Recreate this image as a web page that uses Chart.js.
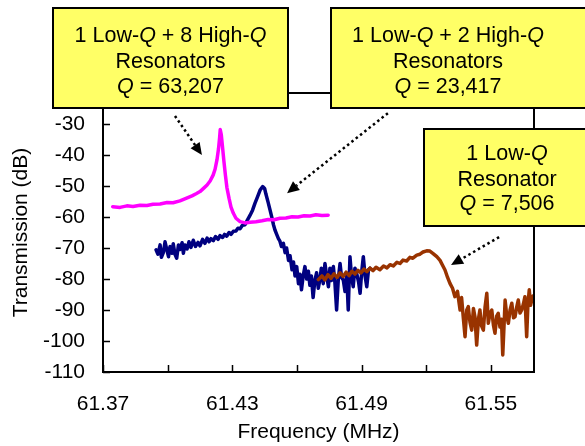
<!DOCTYPE html>
<html><head><meta charset="utf-8">
<script src="https://cdn.jsdelivr.net/npm/chart.js@4/dist/chart.umd.min.js"></script>
<style>html,body{margin:0;padding:0;background:#fff}#wrap{width:585px;height:446px}</style>
</head><body><div id="wrap"><canvas id="c" width="585" height="446"></canvas></div>
<script>
// ---- data ----
const xTickValues = [61.37, 61.40, 61.43, 61.46, 61.49, 61.52, 61.55];
const xTickLabels = ['61.37', '', '61.43', '', '61.49', '', '61.55'];
const yTickValues = [-110, -100, -90, -80, -70, -60, -50, -40, -30, -20];

// 1 Low-Q + 8 High-Q (magenta)
const magentaFreq = [61.3745,61.3779,61.3811,61.3839,61.3872,61.3904,61.3932,61.3965,61.3997,61.4025,61.4057,61.4088,61.4113,61.4132,61.4150,61.4169,61.4183,61.4197,61.4211,61.4220,61.4229,61.4236,61.4241,61.4244,61.4249,61.4254,61.4261,61.4268,61.4275,61.4285,61.4294,61.4305,61.4317,61.4336,61.4359,61.4382,61.4410,61.4438,61.4466,61.4494,61.4521,61.4549,61.4577,61.4605,61.4633,61.4661,61.4688,61.4716,61.4745];
const magentaDb = [-56.7,-56.9,-56.4,-56.6,-56.2,-56.3,-55.9,-55.8,-55.3,-55.4,-54.8,-53.9,-53.2,-52.5,-51.8,-50.6,-49.7,-48.4,-46.5,-44.6,-41.5,-38.0,-34.5,-31.8,-33.5,-37.0,-42.0,-46.5,-50.5,-54.0,-56.8,-58.8,-60.4,-61.5,-61.9,-61.7,-61.5,-61.2,-60.8,-60.9,-60.4,-60.3,-59.9,-60.0,-59.6,-59.7,-59.3,-59.5,-59.4];

// 1 Low-Q + 2 High-Q (navy)
const navyFreq = [61.3946,61.3955,61.3965,61.3971,61.3980,61.3988,61.3996,61.4004,61.4011,61.4020,61.4026,61.4034,61.4042,61.4050,61.4057,61.4067,61.4073,61.4080,61.4090,61.4099,61.4108,61.4119,61.4129,61.4141,61.4150,61.4162,61.4173,61.4183,61.4192,61.4201,61.4212,61.4222,61.4234,61.4243,61.4255,61.4264,61.4274,61.4285,61.4294,61.4305,61.4317,61.4326,61.4336,61.4347,61.4359,61.4370,61.4382,61.4394,61.4405,61.4417,61.4429,61.4441,61.4450,61.4456,61.4466,61.4475,61.4484,61.4491,61.4498,61.4506,61.4514,61.4521,61.4528,61.4537,61.4545,61.4552,61.4561,61.4568,61.4577,61.4584,61.4591,61.4599,61.4607,61.4614,61.4621,61.4629,61.4637,61.4645,61.4653,61.4660,61.4667,61.4675,61.4683,61.4691,61.4699,61.4707,61.4713,61.4722,61.4730,61.4738,61.4746,61.4753,61.4760,61.4769,61.4776,61.4784,61.4792,61.4800,61.4807,61.4815,61.4823,61.4831,61.4838,61.4846,61.4853,61.4861,61.4869,61.4877,61.4886,61.4893,61.4900,61.4908,61.4916,61.4924,61.4932,61.4939];
const navyDb = [-70.6,-72.0,-69.0,-73.0,-71.5,-68.0,-70.5,-72.8,-69.5,-71.7,-68.6,-72.0,-73.3,-69.0,-70.5,-68.3,-71.7,-69.0,-70.3,-68.0,-69.8,-67.5,-69.5,-68.2,-69.3,-67.2,-68.5,-66.8,-68.0,-67.0,-67.6,-66.3,-67.2,-66.0,-66.6,-65.6,-66.2,-65.0,-65.6,-64.6,-64.5,-63.6,-63.8,-62.7,-62.5,-61.0,-59.5,-57.8,-55.6,-53.5,-51.3,-50.2,-50.8,-52.6,-55.2,-57.7,-60.3,-62.5,-64.2,-65.6,-67.0,-67.8,-69.5,-68.5,-71.5,-70.0,-74.0,-72.5,-77.0,-74.5,-79.0,-76.0,-81.5,-78.5,-83.5,-79.0,-76.0,-80.0,-77.5,-82.0,-79.0,-86.0,-80.5,-78.0,-83.0,-80.0,-76.5,-81.5,-75.0,-79.0,-82.5,-76.5,-80.5,-76.0,-81.0,-90.0,-80.0,-75.0,-79.5,-80.3,-84.0,-78.5,-90.0,-72.8,-79.0,-82.5,-76.5,-78.2,-81.0,-84.6,-78.0,-72.8,-79.0,-82.5,-77.0,-76.5];

// 1 Low-Q (brown)
const brownFreq = [61.4699,61.4716,61.4730,61.4744,61.4758,61.4772,61.4786,61.4800,61.4814,61.4828,61.4842,61.4855,61.4869,61.4883,61.4897,61.4911,61.4925,61.4939,61.4953,61.4967,61.4985,61.5002,61.5018,61.5032,61.5047,61.5064,61.5078,61.5092,61.5109,61.5124,61.5138,61.5156,61.5171,61.5185,61.5202,61.5217,61.5232,61.5249,61.5264,61.5275,61.5287,61.5299,61.5310,61.5322,61.5333,61.5345,61.5357,61.5364,61.5372,61.5380,61.5388,61.5395,61.5403,61.5411,61.5419,61.5426,61.5434,61.5442,61.5449,61.5456,61.5465,61.5473,61.5481,61.5488,61.5496,61.5504,61.5512,61.5519,61.5527,61.5534,61.5542,61.5549,61.5555,61.5561,61.5566,61.5573,61.5581,61.5589,61.5597,61.5605,61.5612,61.5620,61.5627,61.5635,61.5643,61.5651,61.5658,61.5666,61.5672,61.5678,61.5684,61.5689,61.5695,61.5700];
const brownDb = [-80.2,-79.0,-80.3,-78.6,-79.8,-78.3,-79.5,-78.0,-79.2,-77.8,-78.9,-77.5,-78.4,-77.2,-78.0,-76.8,-77.6,-76.5,-77.3,-76.2,-77.0,-75.8,-76.4,-75.4,-75.8,-74.6,-75.0,-73.9,-74.2,-73.0,-73.3,-72.3,-72.0,-71.3,-70.9,-71.0,-71.8,-72.8,-74.0,-75.5,-77.1,-79.5,-81.4,-83.0,-85.7,-84.0,-90.0,-86.0,-92.5,-98.6,-90.0,-88.9,-94.0,-96.5,-89.5,-92.2,-101.3,-93.0,-90.0,-95.0,-96.5,-89.0,-84.6,-94.3,-91.0,-90.0,-95.0,-97.5,-92.0,-91.1,-95.5,-93.0,-104.5,-95.0,-86.8,-91.5,-94.3,-90.0,-87.8,-92.5,-92.2,-89.0,-86.8,-91.0,-90.0,-88.0,-85.7,-98.6,-88.0,-83.5,-88.5,-86.8,-85.5,-87.3];

// ---- annotations ----
const FONT = '"Liberation Sans", Arial, Helvetica, sans-serif';
const boxes = [
  {x0:53, y0:8, x1:288, y1:108, cx:170.5, base:[42,68,93],
   lines:[[['1 Low-',0],['Q',1],[' + 8 High-',0],['Q',1]], [['Resonators',0]], [['Q',1],[' = 63,207',0]]]},
  {x0:331, y0:8, x1:600, y1:108, cx:448, base:[42,68,93],
   lines:[[['1 Low-',0],['Q',1],[' + 2 High-',0],['Q',1]], [['Resonators',0]], [['Q',1],[' = 23,417',0]]]},
  {x0:424, y0:129, x1:600, y1:226, cx:507, base:[160,186,210],
   lines:[[['1 Low-',0],['Q',1]], [['Resonator',0]], [['Q',1],[' = 7,506',0]]]}
];
// arrows in data coordinates: from (f,dB) to tip (f,dB)
const arrows = [
  {from:[61.4034,-27.4], to:[61.4159,-40.0]},
  {from:[61.5022,-26.5], to:[61.4554,-52.3]},
  {from:[61.5538,-66.5], to:[61.5315,-75.5]}
];

const framePlugin = {
  id:'frame',
  afterDraw(chart){
    const ctx = chart.ctx, a = chart.chartArea;
    const xs = chart.scales.x, ys = chart.scales.y;
    ctx.save();
    ctx.strokeStyle = '#000'; ctx.lineWidth = 2;
    ctx.beginPath();
    ctx.moveTo(a.left, a.top); ctx.lineTo(a.right, a.top); ctx.lineTo(a.right, a.bottom);
    ctx.stroke();
    // inner ticks
    ctx.lineWidth = 1.5;
    ctx.beginPath();
    yTickValues.forEach(v => { const y = Math.round(ys.getPixelForValue(v)) + 0.5; ctx.moveTo(a.left, y); ctx.lineTo(a.left + 7, y); });
    xTickValues.forEach(v => { const x = Math.round(xs.getPixelForValue(v)) + 0.5; ctx.moveTo(x, a.bottom); ctx.lineTo(x, a.bottom - 7); });
    ctx.stroke();
    // arrows
    arrows.forEach(ar => {
      const x0 = xs.getPixelForValue(ar.from[0]), y0 = ys.getPixelForValue(ar.from[1]);
      const x1 = xs.getPixelForValue(ar.to[0]), y1 = ys.getPixelForValue(ar.to[1]);
      const ang = Math.atan2(y1 - y0, x1 - x0);
      const L = 12, W = 5.5;
      const bx = x1 - L * Math.cos(ang), by = y1 - L * Math.sin(ang);
      ctx.setLineDash([2.5, 3]); ctx.lineWidth = 2.5; ctx.strokeStyle = '#000';
      ctx.beginPath(); ctx.moveTo(x0, y0); ctx.lineTo(bx, by); ctx.stroke();
      ctx.setLineDash([]);
      ctx.fillStyle = '#000';
      ctx.beginPath();
      ctx.moveTo(x1, y1);
      ctx.lineTo(bx - W * Math.sin(ang), by + W * Math.cos(ang));
      ctx.lineTo(bx + W * Math.sin(ang), by - W * Math.cos(ang));
      ctx.closePath(); ctx.fill();
    });
    // boxes
    boxes.forEach(b => {
      ctx.fillStyle = '#FFFF66';
      ctx.fillRect(b.x0, b.y0, b.x1 - b.x0, b.y1 - b.y0);
      ctx.strokeStyle = '#000'; ctx.lineWidth = 2;
      ctx.strokeRect(b.x0, b.y0, b.x1 - b.x0, b.y1 - b.y0);
      ctx.fillStyle = '#000'; ctx.textBaseline = 'alphabetic'; ctx.textAlign = 'left';
      b.lines.forEach((segs, i) => {
        let w = 0;
        segs.forEach(s => { ctx.font = (s[1] ? 'italic ' : '') + '21.5px ' + FONT; w += ctx.measureText(s[0]).width; });
        let x = b.cx - w / 2;
        segs.forEach(s => { ctx.font = (s[1] ? 'italic ' : '') + '21.5px ' + FONT; ctx.fillText(s[0], x, b.base[i]); x += ctx.measureText(s[0]).width; });
      });
    });
    ctx.restore();
  }
};

const mk = (fs, ds) => fs.map((f, i) => ({x: f, y: ds[i]}));
const lineStyle = {borderWidth:3.5, pointRadius:0, tension:0, borderJoinStyle:'round', borderCapStyle:'round'};
new Chart(document.getElementById('c'), {
  type: 'line',
  data: { datasets: [
    Object.assign({label:'1 Low-Q + 8 High-Q', data: mk(magentaFreq, magentaDb), borderColor:'#FF00FF'}, lineStyle),
    Object.assign({label:'1 Low-Q', data: mk(brownFreq, brownDb), borderColor:'#993300'}, lineStyle),
    Object.assign({label:'1 Low-Q + 2 High-Q', data: mk(navyFreq, navyDb), borderColor:'#000080'}, lineStyle)
  ]},
  options: {
    responsive:false, animation:false, devicePixelRatio:1,
    layout:{padding:{left:0, right:51, top:93, bottom:0}},
    plugins:{legend:{display:false}, tooltip:{enabled:false}},
    scales:{
      x:{type:'linear', position:'bottom', min:61.37, max:61.57,
        afterBuildTicks: s => { s.ticks = xTickValues.map(v => ({value:v})); },
        afterFit: s => { s.height = 74; },
        grid:{display:false, drawTicks:false},
        border:{display:true, color:'#000', width:2},
        ticks:{autoSkip:false, maxRotation:0, padding:20, color:'#000', font:{family:FONT, size:21},
          callback:(v, i) => xTickLabels[i]},
        title:{display:true, text:'Frequency (MHz)', color:'#000', font:{family:FONT, size:21}, padding:{top:0, bottom:1}}
      },
      y:{type:'linear', min:-110, max:-20,
        afterBuildTicks: s => { s.ticks = yTickValues.map(v => ({value:v})); },
        afterFit: s => { s.width = 103; },
        grid:{display:false, drawTicks:false},
        border:{display:true, color:'#000', width:2},
        ticks:{autoSkip:false, padding:18, color:'#000', font:{family:FONT, size:21}, callback: v => String(v)},
        title:{display:true, text:'Transmission (dB)', color:'#000', font:{family:FONT, size:21}, padding:{top:9, bottom:0}}
      }
    }
  },
  plugins:[framePlugin]
});
</script></body></html>
